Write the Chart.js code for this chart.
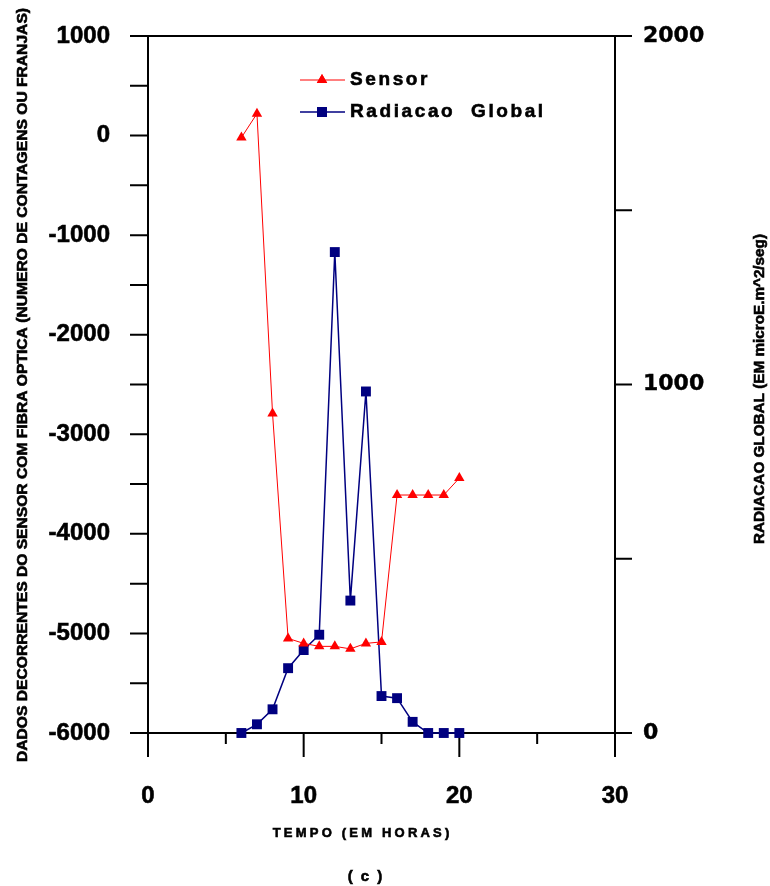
<!DOCTYPE html>
<html>
<head>
<meta charset="utf-8">
<script src="https://cdn.jsdelivr.net/npm/chart.js@4.4.1/dist/chart.umd.min.js"></script>
<style>
  html, body { margin: 0; padding: 0; background: #fff; }
  canvas { display: block; }
</style>
</head>
<body>
<canvas id="grafico" width="770" height="886"></canvas>
<script>
// ============================
// Dados
// ============================
const horas = [6, 7, 8, 9, 10, 11, 12, 13, 14, 15, 16, 17, 18, 19, 20];
const sensor = [-20, 220, -2790, -5050, -5100, -5130, -5130, -5155, -5100, -5085, -3610, -3610, -3610, -3610, -3440];
const radiacao = [0, 25, 68, 186, 238, 282, 1380, 380, 980, 106, 100, 32, 0, 0, 0];

const ticksX = [0, 10, 20, 30];
const ticksXMenores = [5, 15, 25];
const ticksEsq = [-6000, -5000, -4000, -3000, -2000, -1000, 0, 1000];
const ticksEsqMenores = [-5500, -4500, -3500, -2500, -1500, -500, 500];
const ticksDir = [0, 1000, 2000];
const ticksDirMenores = [500, 1500];

const FONTE = "'Liberation Sans', Arial, sans-serif";

// texto comprimido/esticado para caber num comprimento
function textoEscalado(ctx, texto, x, y, comp, rot, fonte) {
  ctx.save();
  ctx.translate(x, y);
  ctx.rotate(rot);
  ctx.font = fonte;
  const w = ctx.measureText(texto).width;
  ctx.scale(comp / w, 1);
  ctx.textAlign = 'center';
  ctx.textBaseline = 'middle';
  ctx.lineWidth = 0.6;
  ctx.strokeStyle = '#000';
  ctx.fillText(texto, 0, 0);
  ctx.strokeText(texto, 0, 0);
  ctx.restore();
}

// texto com espaçamento entre letras
function textoEspacado(ctx, texto, x, y, esp, fonte, alinhar) {
  ctx.save();
  ctx.font = fonte;
  ctx.letterSpacing = esp + 'px';
  ctx.textAlign = alinhar || 'center';
  ctx.textBaseline = 'middle';
  ctx.lineWidth = 0.6;
  ctx.strokeStyle = '#000';
  const px = alinhar === 'left' ? x : x + esp / 2;
  ctx.fillText(texto, px, y);
  ctx.strokeText(texto, px, y);
  ctx.restore();
}

// ============================
// Eixos, ticks, títulos e legenda
// ============================
const eixosPlugin = {
  id: 'eixos',
  beforeDatasetsDraw(chart) {
    const ctx = chart.ctx;
    const a = chart.chartArea;
    const sx = chart.scales.x, sy = chart.scales.y, sy2 = chart.scales.y2;
    ctx.save();
    ctx.strokeStyle = '#000';
    ctx.lineWidth = 2;
    ctx.beginPath();
    // caixa
    ctx.moveTo(a.left, a.top); ctx.lineTo(a.left, a.bottom + 24);
    ctx.moveTo(a.right, a.top); ctx.lineTo(a.right, a.bottom + 24);
    // ticks esquerda
    ticksEsq.concat(ticksEsqMenores).forEach(v => {
      const y = sy.getPixelForValue(v);
      ctx.moveTo(a.left - 18, y); ctx.lineTo(a.left, y);
    });
    // ticks direita
    ticksDir.concat(ticksDirMenores).forEach(v => {
      const y = sy2.getPixelForValue(v);
      ctx.moveTo(a.right, y); ctx.lineTo(a.right + 17, y);
    });
    // linhas horizontais de cima e de baixo
    ctx.moveTo(a.left, a.top); ctx.lineTo(a.right, a.top);
    ctx.moveTo(a.left, a.bottom); ctx.lineTo(a.right, a.bottom);
    // ticks x
    ticksX.forEach(v => {
      const x = sx.getPixelForValue(v);
      ctx.moveTo(x, a.bottom); ctx.lineTo(x, a.bottom + 24);
    });
    ticksXMenores.forEach(v => {
      const x = sx.getPixelForValue(v);
      ctx.moveTo(x, a.bottom); ctx.lineTo(x, a.bottom + 11);
    });
    ctx.stroke();
    ctx.restore();
  },
  afterDraw(chart) {
    const ctx = chart.ctx;
    ctx.save();
    ctx.fillStyle = '#000';
    // títulos
    textoEscalado(ctx, 'DADOS DECORRENTES DO SENSOR COM FIBRA OPTICA (NUMERO DE CONTAGENS OU FRANJAS)',
      23, 385, 754, -Math.PI / 2, 'bold 14px ' + FONTE);
    textoEscalado(ctx, 'RADIACAO GLOBAL (EM microE.m^2/seg)',
      760, 389, 310, -Math.PI / 2, 'bold 14px ' + FONTE);
    textoEspacado(ctx, 'TEMPO (EM HORAS)', 361, 833, 3.2, 'bold 13px ' + FONTE);
    textoEspacado(ctx, '( c )', 365, 877, 2, 'bold 15px ' + FONTE);

    // legenda
    const itens = [
      { texto: 'Sensor', cor: '#ff0000', estilo: 'triangle', raio: 6, larg: 1, y: 80 },
      { texto: 'Radiacao  Global', cor: '#000080', estilo: 'rect', raio: 7, larg: 1.5, y: 112 }
    ];
    itens.forEach(it => {
      ctx.strokeStyle = it.cor;
      ctx.lineWidth = it.larg;
      ctx.beginPath();
      ctx.moveTo(300, it.y); ctx.lineTo(345, it.y);
      ctx.stroke();
      ctx.fillStyle = it.cor;
      Chart.helpers.drawPoint(ctx, { pointStyle: it.estilo, radius: it.raio, borderWidth: 0 }, 322, it.y);
      ctx.fill();
      ctx.fillStyle = '#000';
      textoEspacado(ctx, it.texto, 350, it.y, 2.6, 'bold 19px ' + FONTE, 'left');
    });
    ctx.restore();
  }
};

// rótulos sem separador de milhar
const semSeparador = v => String(v);

// ============================
// Gráfico
// ============================
const ctx = document.getElementById('grafico');
new Chart(ctx, {
  type: 'line',
  data: {
    datasets: [
      {
        label: 'Sensor',
        data: horas.map((h, i) => ({ x: h, y: sensor[i] })),
        yAxisID: 'y',
        borderColor: '#ff0000',
        backgroundColor: '#ff0000',
        borderWidth: 1,
        pointStyle: 'triangle',
        pointRadius: 6,
        pointBorderWidth: 0,
        tension: 0,
        clip: false
      },
      {
        label: 'Radiacao Global',
        data: horas.map((h, i) => ({ x: h, y: radiacao[i] })),
        yAxisID: 'y2',
        borderColor: '#000080',
        backgroundColor: '#000080',
        borderWidth: 1.5,
        pointStyle: 'rect',
        pointRadius: 7,
        pointBorderWidth: 0,
        tension: 0,
        clip: false
      }
    ]
  },
  options: {
    responsive: false,
    animation: false,
    layout: { padding: { top: 36, left: 0, right: 0, bottom: 0 } },
    plugins: { legend: { display: false }, tooltip: { enabled: false } },
    scales: {
      x: {
        type: 'linear',
        min: 0, max: 30,
        afterBuildTicks: s => { s.ticks = ticksX.map(v => ({ value: v })); },
        afterFit: s => { s.height = 153; s.paddingLeft = 0; s.paddingRight = 0; },
        grid: { display: false, drawTicks: false },
        border: { display: false },
        ticks: { color: '#000', padding: 49, callback: semSeparador, textStrokeColor: '#000', textStrokeWidth: 0.6,
                 font: { family: FONTE, size: 24, weight: 'bold' } }
      },
      y: {
        position: 'left',
        min: -6000, max: 1000,
        afterBuildTicks: s => { s.ticks = ticksEsq.map(v => ({ value: v })); },
        afterFit: s => { s.width = 148; s.paddingTop = 0; s.paddingBottom = 0; },
        grid: { display: false, drawTicks: false },
        border: { display: false },
        ticks: { color: '#000', padding: 38, callback: semSeparador, textStrokeColor: '#000', textStrokeWidth: 0.6,
                 font: { family: FONTE, size: 24, weight: 'bold' } }
      },
      y2: {
        position: 'right',
        min: 0, max: 2000,
        afterBuildTicks: s => { s.ticks = ticksDir.map(v => ({ value: v })); },
        afterFit: s => { s.width = 155; s.paddingTop = 0; s.paddingBottom = 0; },
        grid: { display: false, drawTicks: false },
        border: { display: false },
        ticks: { color: '#000', padding: 28, callback: semSeparador, textStrokeColor: '#000', textStrokeWidth: 0.4,
                 font: { family: "'DejaVu Sans', sans-serif", size: 22, weight: 'bold' } }
      }
    }
  },
  plugins: [eixosPlugin]
});
</script>
</body>
</html>
